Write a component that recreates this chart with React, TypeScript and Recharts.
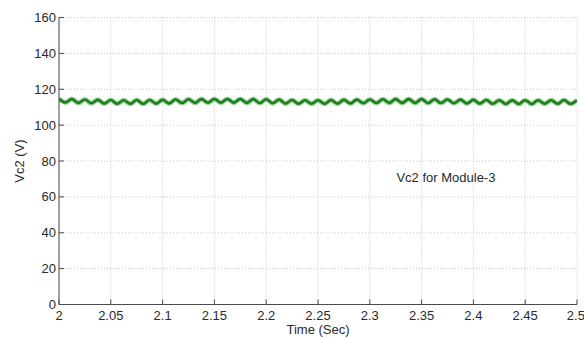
import React from 'react';
import { LineChart, Line, XAxis, YAxis, CartesianGrid, ReferenceDot } from 'recharts';

// capacitor voltage samples (peaks and troughs of the ripple)
const time = [
  2.0, 2.00625, 2.0125, 2.01875, 2.025, 2.03125, 2.0375, 2.04375, 2.05, 2.05625,
  2.0625, 2.06875, 2.075, 2.08125, 2.0875, 2.09375, 2.1, 2.10625, 2.1125, 2.11875,
  2.125, 2.13125, 2.1375, 2.14375, 2.15, 2.15625, 2.1625, 2.16875, 2.175, 2.18125,
  2.1875, 2.19375, 2.2, 2.20625, 2.2125, 2.21875, 2.225, 2.23125, 2.2375, 2.24375,
  2.25, 2.25625, 2.2625, 2.26875, 2.275, 2.28125, 2.2875, 2.29375, 2.3, 2.30625,
  2.3125, 2.31875, 2.325, 2.33125, 2.3375, 2.34375, 2.35, 2.35625, 2.3625, 2.36875,
  2.375, 2.38125, 2.3875, 2.39375, 2.4, 2.40625, 2.4125, 2.41875, 2.425, 2.43125,
  2.4375, 2.44375, 2.45, 2.45625, 2.4625, 2.46875, 2.475, 2.48125, 2.4875, 2.49375,
  2.5,
];

const vc2 = [
  114.7, 112.6, 114.5, 112.4, 114.3, 112.2, 114.1, 112.0, 114.0, 111.9,
  113.9, 111.9, 114.0, 111.9, 114.0, 112.0, 114.1, 112.1, 114.3, 112.3,
  114.4, 112.4, 114.5, 112.5, 114.6, 112.5, 114.6, 112.5, 114.6, 112.4,
  114.5, 112.3, 114.4, 112.2, 114.2, 112.0, 114.0, 111.9, 113.9, 111.9,
  113.9, 111.9, 114.0, 112.0, 114.1, 112.1, 114.2, 112.2, 114.3, 112.3,
  114.4, 112.4, 114.5, 112.4, 114.5, 112.4, 114.5, 112.3, 114.4, 112.3,
  114.3, 112.2, 114.2, 112.1, 114.1, 112.0, 114.0, 111.9, 113.9, 111.8,
  113.9, 111.8, 113.9, 111.8, 113.9, 111.9, 113.9, 111.9, 114.0, 111.9,
  113.8,
];

const xTicks = [2, 2.05, 2.1, 2.15, 2.2, 2.25, 2.3, 2.35, 2.4, 2.45, 2.5];
const yTicks = [0, 20, 40, 60, 80, 100, 120, 140, 160];

const data = time.map((t, i) => ({ t, v: vc2[i] }));

const font = '"Liberation Sans", Arial, sans-serif';
const textColor = '#2a2a2a';
const tickStyle = { fill: textColor, fontSize: 13, fontFamily: font };
const axisStroke = { stroke: '#4a4a4a' };

export default function App() {
  return (
    <div style={{ position: 'absolute', left: 0, top: 0, background: '#fff', fontFamily: font }}>
      <LineChart
        width={584}
        height={338}
        data={data}
        margin={{ top: 17.5, right: 7, bottom: 0, left: 0 }}
      >
        <CartesianGrid stroke="#c4c4c4" strokeDasharray="1 2" />
        <XAxis
          dataKey="t"
          type="number"
          domain={[2, 2.5]}
          ticks={xTicks}
          allowDataOverflow
          height={33.5}
          tickSize={-5}
          tickMargin={11}
          tick={tickStyle}
          axisLine={axisStroke}
          tickLine={axisStroke}
          label={{ value: 'Time (Sec)', position: 'insideBottom', offset: 4, fill: textColor, fontSize: 13, fontFamily: font }}
        />
        <XAxis
          xAxisId="top"
          orientation="top"
          type="number"
          domain={[2, 2.5]}
          ticks={xTicks}
          allowDataOverflow
          height={0}
          tickSize={-5}
          tick={false}
          axisLine={axisStroke}
          tickLine={axisStroke}
        />
        <YAxis
          type="number"
          domain={[0, 160]}
          ticks={yTicks}
          allowDataOverflow
          width={59}
          tickSize={-5}
          tickMargin={8}
          tick={tickStyle}
          axisLine={axisStroke}
          tickLine={axisStroke}
          label={{ value: 'Vc2 (V)', angle: -90, position: 'insideLeft', offset: 19, fill: textColor, fontSize: 13, fontFamily: font, style: { textAnchor: 'middle' } }}
        />
        <YAxis
          yAxisId="right"
          orientation="right"
          type="number"
          domain={[0, 160]}
          ticks={yTicks}
          allowDataOverflow
          width={0}
          tickSize={-5}
          tick={false}
          axisLine={axisStroke}
          tickLine={axisStroke}
        />
        {/* soft halo under the trace */}
        <Line
          type="monotone"
          dataKey="v"
          stroke="#93d893"
          strokeWidth={5}
          dot={false}
          activeDot={false}
          isAnimationActive={false}
        />
        <Line
          type="monotone"
          dataKey="v"
          stroke="#237a23"
          strokeWidth={2.6}
          dot={false}
          activeDot={false}
          isAnimationActive={false}
        />
        <ReferenceDot
          x={2.3735}
          y={71}
          r={0}
          fill="none"
          stroke="none"
          label={{ value: 'Vc2 for Module-3', position: 'center', fill: textColor, fontSize: 13, fontFamily: font }}
        />
      </LineChart>
    </div>
  );
}
